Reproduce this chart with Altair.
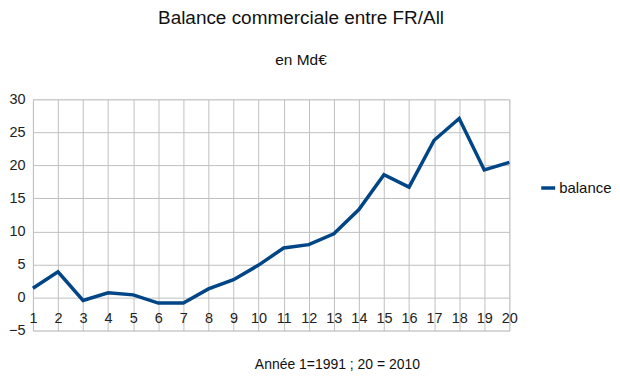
import altair as alt
import pandas as pd

annees = list(range(1, 21))
balance = [1.4, 3.9, -0.45, 0.7, 0.4, -0.85, -0.85, 1.3, 2.7, 4.9,
           7.5, 8.0, 9.65, 13.3, 18.6, 16.7, 23.8, 27.1, 19.3, 20.45]
serie = ["balance"] * len(annees)
y_ticks = [-5, 0, 5, 10, 15, 20, 25, 30]

df = pd.DataFrame({"annee": annees, "valeur": balance, "serie": serie})

FONT = "Liberation Sans"

chart = alt.Chart(df).mark_line(strokeWidth=3.5, strokeJoin="miter").encode(
    x=alt.X("annee:Q",
            scale=alt.Scale(domain=[1, 20], nice=False, zero=False),
            axis=alt.Axis(values=annees, title="Année 1=1991 ; 20 = 2010",
                          offset=-12, ticks=False, tickSize=0, domain=False,
                          labelPadding=0, labelBaseline="middle",
                          labelFontSize=14.5, labelColor="#222222",
                          labelFont=FONT, labelFlush=False,
                          grid=True, gridColor="#c0c0c0",
                          titleFont=FONT, titleFontSize=14, titleFontWeight="normal",
                          titleColor="#111111", titleX=305, titleY=46,
                          titleBaseline="middle", titleAnchor="start", titleAlign="center")),
    y=alt.Y("valeur:Q",
            scale=alt.Scale(domain=[-5, 30], nice=False),
            axis=alt.Axis(values=y_ticks, title=None, ticks=False, domain=False,
                          labelPadding=8, labelFontSize=14.5, labelColor="#222222",
                          labelFont=FONT, grid=True, gridColor="#c0c0c0")),
    color=alt.Color("serie:N",
                    scale=alt.Scale(range=["#004586"]),
                    legend=alt.Legend(title=None, orient="none", legendX=508, legendY=80,
                                      symbolType="stroke", symbolSize=196,
                                      symbolStrokeWidth=3.5, labelFontSize=15,
                                      labelFont=FONT, labelColor="#111111",
                                      labelOffset=2, padding=0)),
).properties(
    width=478,
    height=232,
    padding=0,
    title=alt.TitleParams(text="Balance commerciale entre FR/All",
                          subtitle="en Md€",
                          font=FONT, fontSize=19, fontWeight="normal", color="#111111",
                          subtitleFont=FONT, subtitleFontSize=15.5, subtitleColor="#111111",
                          subtitlePadding=25, offset=16, anchor="middle", dx=30, dy=-7),
).configure_view(stroke=None).configure(background="white")

chart.save("out.html", embed_options={"renderer": "svg", "actions": False})
